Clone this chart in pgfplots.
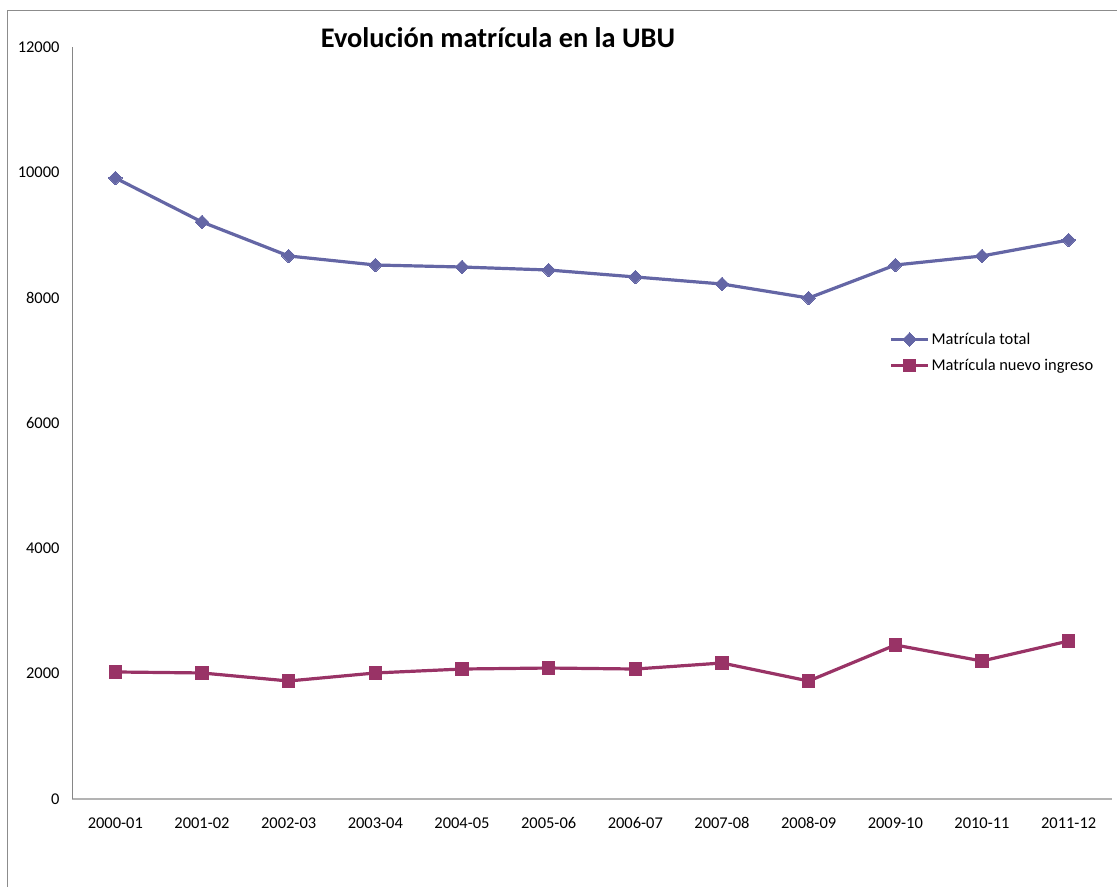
\documentclass[border=0pt]{standalone}
\usepackage{fontspec}
\setmainfont{Carlito}
\usepackage{pgfplots}
\pgfplotsset{compat=1.18}

\definecolor{totalc}{HTML}{6466A5}
\definecolor{nuevoc}{HTML}{993366}
\definecolor{framec}{HTML}{8C8C8C}
\definecolor{yaxc}{HTML}{868686}
\definecolor{xaxc}{HTML}{B3B3B3}

\begin{document}
\begin{tikzpicture}[x=1bp,y=1bp]
\clip (0,0) rectangle (1117,887);
\draw[framec, line width=0.9bp] (7.5,-20) |- (1140,877);
\begin{axis}[
    at={(72bp,88bp)}, anchor=south west,
    scale only axis, width=1040bp, height=752bp,
    xmin=-0.5, xmax=11.5,
    ymin=0, ymax=12000,
    xtick={0,...,11},
    xticklabels={2000-01,2001-02,2002-03,2003-04,2004-05,2005-06,2006-07,2007-08,2008-09,2009-10,2010-11,2011-12},
    ytick={0,2000,...,12000},
    scaled y ticks=false,
    /pgf/number format/1000 sep={},
    /pgf/number format/assume math mode=true,
    axis x line*=bottom, axis y line*=left,
    x axis line style={draw=xaxc, line width=1.2bp, -},
    y axis line style={draw=yaxc, line width=1bp, -},
    tick style={draw=none},
    ticklabel style={font=\fontsize{16.5}{19}\selectfont},
    xticklabel style={yshift=-15bp},
    yticklabel style={xshift=-9bp},
    legend style={draw=none, fill=none, at={(0.786,0.594)}, anchor=west,
        font=\fontsize{16.5}{19}\selectfont, row sep=9bp, inner sep=0pt},
    legend cell align=left,
    legend image code/.code={\draw[mark repeat=2, mark phase=2, #1, line width=3bp] plot coordinates {(0bp,0bp) (18.5bp,0bp) (37bp,0bp)};},
]
\addplot[totalc, line width=3.2bp, mark=square*, mark size=4.8bp,
    mark options={rotate=45, fill=totalc, draw=totalc, line width=0pt}]
coordinates {
    (0,9910) (1,9207) (2,8665) (3,8521) (4,8489) (5,8441)
    (6,8330) (7,8218) (8,7994) (9,8521) (10,8665) (11,8920)
};
\addlegendentry{Matrícula total}
\addplot[nuevoc, line width=3.2bp, mark=square*, mark size=6.2bp,
    mark options={fill=nuevoc, draw=nuevoc, line width=0pt}]
coordinates {
    (0,2027) (1,2011) (2,1883) (3,2011) (4,2074) (5,2090)
    (6,2074) (7,2170) (8,1883) (9,2457) (10,2202) (11,2521)
};
\addlegendentry{Matrícula nuevo ingreso}
\end{axis}
\node[font=\fontsize{28.5}{33}\selectfont\bfseries] at (498,849) {Evolución matrícula en la UBU};
\end{tikzpicture}
\end{document}
